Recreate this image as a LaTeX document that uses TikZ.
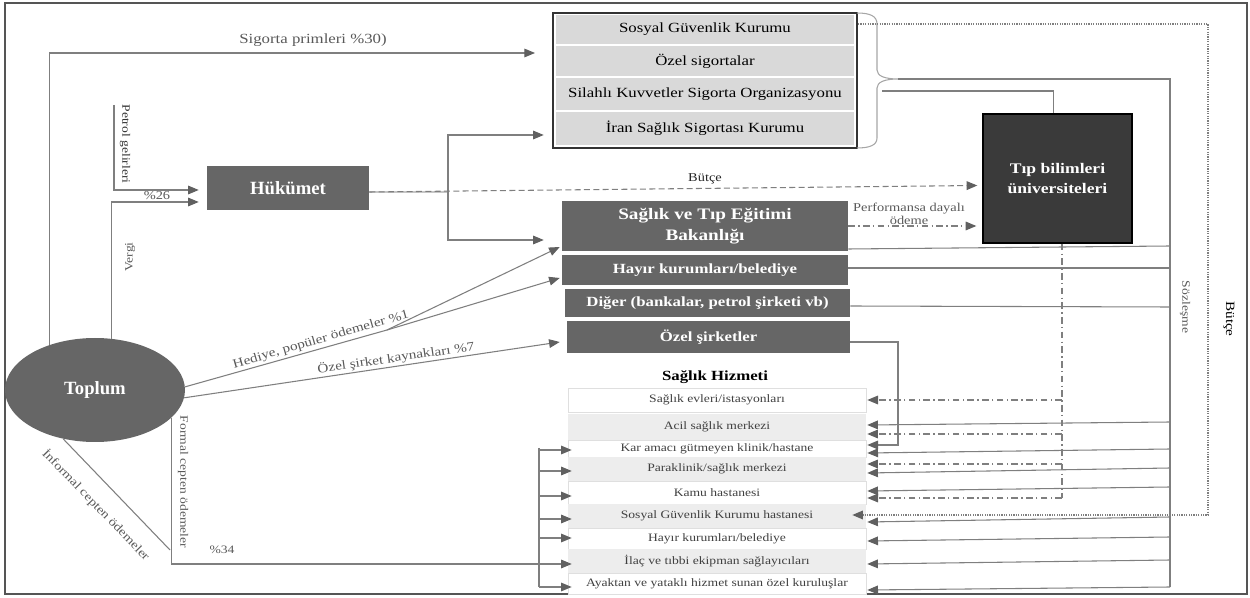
\documentclass[tikz,border=0pt]{standalone}
\usepackage{fontspec}
\setmainfont{Liberation Serif}
\newfontfamily\wide{Liberation Serif}[FakeStretch=1.2]
\usetikzlibrary{arrows.meta,calc,shapes.geometric}
\definecolor{lineg}{HTML}{7F7F7F}
\definecolor{tipc}{HTML}{606060}
\definecolor{labelg}{HTML}{595959}
\definecolor{boxg}{HTML}{666666}
\definecolor{tipg}{HTML}{3A3A3A}
\definecolor{rowg}{HTML}{D9D9D9}
\definecolor{listg}{HTML}{EDEDED}
\definecolor{itemg}{HTML}{404040}
\definecolor{insb}{HTML}{333333}
\definecolor{frameg}{HTML}{555555}
\newcommand\fsz[2]{\fontsize{#1}{#2}\selectfont}
\begin{document}
\begin{tikzpicture}[x=0.75pt,y=-0.75pt,
  gline/.style={draw=lineg,line width=0.8pt},
  arr/.style={gline,-{Triangle[length=8pt,width=6.5pt,color=tipc]}},
  dd/.style={dash pattern=on 5pt off 2.5pt on 1pt off 2.5pt},
  lbl/.style={text=labelg,inner sep=0pt,font=\wide\fsz{8.5}{10}},
  darkbox/.style={fill=boxg,draw=none,text=white,inner sep=0pt,align=center},
  rowbox/.style={fill=rowg,draw=none,inner sep=0pt,minimum width=223.5pt,text=black,font=\wide\fsz{10.5}{12}},
  litem/.style={inner sep=0pt,minimum width=223.5pt,text=itemg,font=\wide\fsz{8.5}{9}},
  lwhite/.style={litem,fill=white,draw=gray!25,line width=0.5pt},
  lgray/.style={litem,fill=listg,draw=none}]
\useasboundingbox (0,0) rectangle (1250,598);
\draw[line width=0.9pt,draw=frameg] (5,3) rectangle (1247,594);

% insurance stack
\node[draw=insb,line width=1.6pt,fill=white,minimum width=228pt,minimum height=101.25pt,inner sep=0pt] (ins) at (705,80.5) {};
\node[rowbox,minimum height=21.75pt] (sgk) at (705,29.5) {Sosyal Güvenlik Kurumu};
\node[rowbox,minimum height=22.5pt] (ozs) at (705,61) {Özel sigortalar};
\node[rowbox,minimum height=24pt] (sil) at (705,94) {Silahlı Kuvvetler Sigorta Organizasyonu};
\node[rowbox,minimum height=24.75pt] (iran) at (705,128.5) {İran Sağlık Sigortası Kurumu};

% main nodes
\node[ellipse,fill=boxg,minimum width=135pt,minimum height=78pt,inner sep=0pt,text=white,font=\bfseries\fsz{14}{16}] (toplum) at (95,390) {Toplum};
\node[darkbox,minimum width=121.5pt,minimum height=33pt,font=\bfseries\fsz{14}{16}] (huk) at (288,188) {Hükümet};
\node[darkbox,fill=tipg,draw=black,line width=1pt,minimum width=111.75pt,minimum height=96.75pt,font=\wide\bfseries\fsz{11}{15}] (tip) at (1057.5,178.5) {Tıp bilimleri\\üniversiteleri};
\node[darkbox,minimum width=214.5pt,minimum height=37.5pt,font=\wide\bfseries\fsz{12}{15.75}] (mohme) at (705,226) {Sağlık ve Tıp Eğitimi\\Bakanlığı};
\node[darkbox,minimum width=214.5pt,minimum height=22.5pt,font=\wide\bfseries\fsz{10.5}{12}] (hayir) at (705,270) {Hayır kurumları/belediye};
\node[darkbox,minimum width=213.75pt,minimum height=21pt,font=\wide\bfseries\fsz{10.5}{12}] (diger) at (707.5,303) {Diğer (bankalar, petrol şirketi vb)};
\node[darkbox,minimum width=212.25pt,minimum height=24pt,font=\wide\bfseries\fsz{10.5}{12}] (ozel) at (708.5,337) {Özel şirketler};

% health services list
\node[font=\wide\bfseries\fsz{10.5}{12}] (title) at (715,377) {Sağlık Hizmeti};
\node[lwhite,minimum height=18pt] (h1) at (717,400) {Sağlık evleri/istasyonları};
\node[lgray,minimum height=19.5pt] (h2) at (717,427) {Acil sağlık merkezi};
\node[lwhite,minimum height=12.75pt] (h3) at (717,448.5) {Kar amacı gütmeyen klinik/hastane};
\node[lgray,minimum height=18pt] (h4) at (717,469) {Paraklinik/sağlık merkezi};
\node[lwhite,minimum height=17.25pt] (h5) at (717,492.5) {Kamu hastanesi};
\node[lgray,minimum height=18pt] (h6) at (717,516) {Sosyal Güvenlik Kurumu hastanesi};
\node[lwhite,minimum height=15.75pt] (h7) at (717,538.5) {Hayır kurumları/belediye};
\node[lgray,minimum height=18pt] (h8) at (717,561) {İlaç ve tıbbi ekipman sağlayıcıları};
\node[lwhite,minimum height=15.75pt] (h9) at (717,583.5) {Ayaktan ve yataklı hizmet sunan özel kuruluşlar};

% Toplum -> insurance
\coordinate (sigtip) at (535,53);
\draw[arr] (toplum.135) |- (sigtip);
\node[lbl,font=\wide\fsz{10.5}{12}] (l1) at (313,40) {Sigorta primleri \%30)};

% Petrol / Vergi -> Hükümet
\coordinate (petst) at (114,105);
\draw[arr] (petst) |- ($(huk.west)+(-8,2)$);
\draw[arr] (toplum.72) |- ($(huk.west)+(-8,14)$);
\node[lbl,text=black!80,rotate=-90] (l2) at (125,144) {Petrol gelirleri};
\node[lbl,font=\wide\fsz{9}{10}] (l3) at (157,196) {\%26};
\node[lbl,rotate=90] (l4) at (130,257) {Vergi};

% Hükümet outputs
\coordinate (hj) at (448,192);
\draw[line width=2.2pt,draw=gray!45] ($(huk.east)+(0,4)$) -- (hj);
\draw[arr] (hj) |- ($(iran.west)+(-12,6.5)$);
\draw[arr] (hj) |- ($(mohme.west)+(-18,14)$);
\draw[arr,dash pattern=on 4.5pt off 2.5pt] ($(huk.east)+(0,4)$) -- ($(tip.west)+(-5,7)$);
\node[lbl,text=black!85,font=\wide\fsz{9}{10}] (l5) at (705,179) {Bütçe};

% performance payment
\draw[arr,dd] (mohme.east) -- ($(tip.west)+(-6,47.5)$);
\node[lbl,align=center,font=\wide\fsz{9}{10}] (l6) at (909,214) {Performansa dayalı\\ödeme};

% brace and right bus
\draw[draw=gray!70,line width=0.8pt] (857,13) .. controls (870,13) and (877,16) .. (877,24) -- (877,70) .. controls (877,76) and (885,79) .. (898,79) .. controls (885,79) and (877,82) .. (877,88) -- (877,138) .. controls (877,145) and (870,148) .. (857,148);
\coordinate (btip) at (898,79);
\coordinate (rtop) at (1170,79);
\coordinate (rbot) at (1170,587);
\draw[gline] (btip) -- (rtop) -- (rbot);
\node[lbl,rotate=-90] (l7) at (1185,307) {Sözleşme};

% Silahlı -> Tıp
\coordinate (silst) at (882,91);
\draw[gline] (silst) -| ($(tip.north)+(-4,0)$);

% dotted budget
\coordinate (dotc) at (1208,24);
\draw[arr,densely dotted,line width=1pt] (ins.east |- dotc) -- (dotc) |- ($(h6.east)+(-14,-1)$);
\node[lbl,text=black,font=\wide\fsz{9.5}{10}] [rotate=-90] (l8) at (1229,319) {Bütçe};

% middle boxes to bus
\draw[gline] ($(mohme.east)+(0,23)$) -- (1170,246);
\draw[gline] ($(hayir.east)+(0,-2)$) -- (1170,268);
\draw[gline] ($(diger.east)+(0,3)$) -- (1170,307);
\coordinate (ozc) at (898,342);
\draw[arr] ($(ozel.east)+(0,5)$) -- (ozc) |- ($(h3.east)+(1,-3.5)$);

% Tıp dash-dot
\coordinate (tbot) at (1062,498);
\draw[gline,dd,line width=1.2pt] ($(tip.south)+(4.5,0)$) -- (tbot);
\draw[arr,dd] (1062,400) -- ($(h1.east)+(1,0)$);
\draw[arr,dd] (1062,434) -- ($(h2.east)+(1,7)$);
\draw[arr,dd] (1062,464) -- ($(h4.east)+(1,-5)$);
\draw[arr,dd] (tbot) -- ($(h5.east)+(1,5.5)$);

% bus arrows
\draw[arr] (1170,422) -- ($(h2.east)+(1,-2)$);
\draw[arr] (1170,449) -- ($(h3.east)+(1,4.5)$);
\draw[arr] (1170,468) -- ($(h4.east)+(1,4)$);
\draw[arr] (1170,487) -- ($(h5.east)+(1,-1.5)$);
\draw[arr] (1170,517) -- ($(h6.east)+(1,6)$);
\draw[arr] (1170,537) -- ($(h7.east)+(1,2.5)$);
\draw[arr] (1170,560) -- ($(h8.east)+(1,3)$);
\draw[arr] (1170,587) -- ($(h9.east)+(1,6.5)$);

% left bus into list
\coordinate (lbt) at (539,448);
\coordinate (lbb) at (539,587);
\draw[gline] (lbt) -- (lbb);
\draw[arr] (539,450) -- ($(h3.west)+(4,1.5)$);
\draw[arr] (539,471) -- ($(h4.west)+(4,2)$);
\draw[arr] (539,496) -- ($(h5.west)+(4,3.5)$);
\draw[arr] (539,519) -- ($(h6.west)+(4,3)$);
\draw[arr] (539,538) -- ($(h7.west)+(4,-0.5)$);
\draw[arr] (toplum.-20) |- ($(h8.west)+(4,3)$);
\draw[arr] (lbb) -- ($(h9.west)+(4,3.5)$);
\node[lbl,rotate=-90] (l9) at (183,482) {Formal cepten ödemeler};
\node[lbl] (l10) at (222,550) {\%34};

% informal
\coordinate (infend) at (170,550);
\draw[gline] (toplum.237) -- (infend);
\node[lbl,rotate=-46,font=\wide\fsz{9}{10}] (l11) at (96,505) {İnformal cepten ödemeler};

% Hediye / Özel şirket
\coordinate (hb) at (387,330);
\draw[gline] (toplum.2) -- (hb);
\draw[arr] (hb) -- ($(mohme.west)+(-2,21)$);
\draw[arr] (hb) -- ($(hayir.west)+(-2,8)$);
\draw[arr] (toplum.-5) -- ($(ozel.west)+(-7,5)$);
\node[lbl,rotate=16,font=\wide\fsz{9.5}{10}] (l12) at (321,340) {Hediye, popüler ödemeler \%1};
\node[lbl,rotate=8.3,font=\wide\fsz{9.5}{10}] (l13) at (396,358) {Özel şirket kaynakları \%7};
\end{tikzpicture}
\end{document}
